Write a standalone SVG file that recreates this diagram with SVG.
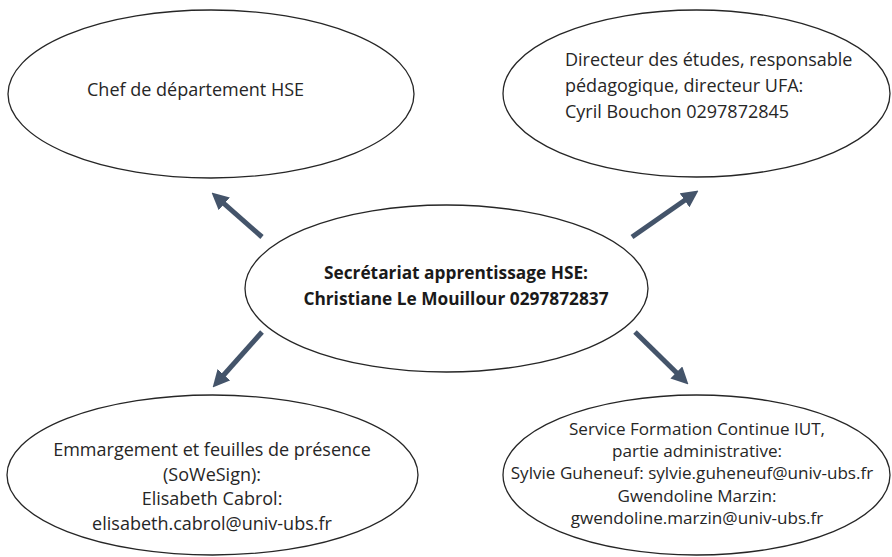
<svg xmlns="http://www.w3.org/2000/svg" width="892" height="557" viewBox="0 0 892 557">
<style>
.node ellipse{fill:#ffffff;stroke:#262626;stroke-width:1.3}
.t{font-family:"Open Sans","Liberation Sans",Arial,sans-serif;font-size:18px;fill:#262626}
.tc{text-anchor:middle}
.b{font-weight:bold;font-size:17.3px;fill:#1a1a1a}
.s{font-size:17.1px}
.conn line{stroke:#44546A;stroke-width:5;marker-end:url(#ah)}
</style>
<defs>
<marker id="ah" markerUnits="userSpaceOnUse" viewBox="0 0 16 16" markerWidth="17" markerHeight="17" refX="6" refY="8" orient="auto">
<path d="M0,0 L16,8 L0,16 z" fill="#44546A"/>
</marker>
</defs>
<rect width="892" height="557" fill="#ffffff"/>
<g id="chef" class="node">
<ellipse cx="211" cy="94" rx="203" ry="84"/>
<text class="t" x="87" y="96">Chef de département HSE</text>
</g>
<g id="directeur" class="node">
<ellipse cx="696.5" cy="93.5" rx="193.5" ry="83.5"/>
<text class="t" x="565" y="66">Directeur des études, responsable</text>
<text class="t" x="565" y="92">pédagogique, directeur UFA:</text>
<text class="t" x="565" y="118">Cyril Bouchon 0297872845</text>
</g>
<g id="secretariat" class="node">
<ellipse cx="446.5" cy="288.5" rx="201.5" ry="83.5"/>
<text class="t tc b" x="456" y="279">Secrétariat apprentissage HSE:</text>
<text class="t tc b" x="456" y="305">Christiane Le Mouillour 0297872837</text>
</g>
<g id="emmargement" class="node">
<ellipse cx="212.5" cy="475" rx="205.5" ry="80"/>
<text class="t tc" x="212" y="456">Emmargement et feuilles de présence</text>
<text class="t tc" x="212" y="481">(SoWeSign):</text>
<text class="t tc" x="212" y="505">Elisabeth Cabrol:</text>
<text class="t tc" x="212" y="530">elisabeth.cabrol@univ-ubs.fr</text>
</g>
<g id="formation" class="node">
<ellipse cx="696.5" cy="475" rx="193.5" ry="80"/>
<text class="t tc s" x="697" y="435">Service Formation Continue IUT,</text>
<text class="t tc s" x="697" y="457">partie administrative:</text>
<text class="t tc s" x="692" y="479">Sylvie Guheneuf: sylvie.guheneuf@univ-ubs.fr</text>
<text class="t tc s" x="697" y="502">Gwendoline Marzin:</text>
<text class="t tc s" x="697" y="524">gwendoline.marzin@univ-ubs.fr</text>
</g>
<g id="connectors" class="conn">
<line x1="262" y1="237" x2="219.5" y2="199.6"/>
<line x1="632" y1="237" x2="689.8" y2="196.7"/>
<line x1="262" y1="332" x2="219.7" y2="379.5"/>
<line x1="635" y1="332" x2="680.9" y2="377"/>
</g>
</svg>
